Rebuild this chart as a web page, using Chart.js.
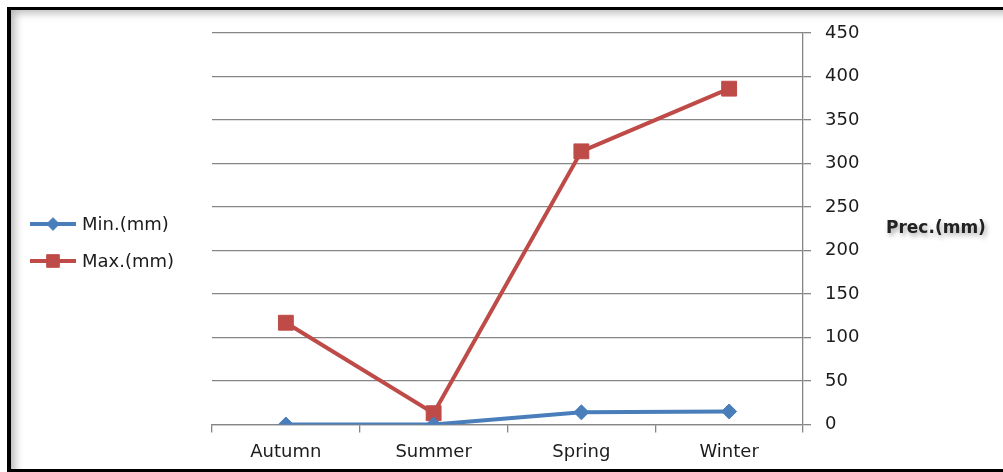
<!DOCTYPE html>
<html>
<head>
<meta charset="utf-8">
<script src="https://cdn.jsdelivr.net/npm/chart.js@4/dist/chart.umd.min.js"></script>
<style>
  html, body { margin: 0; padding: 0; background: #fff; }
  #wrap { position: relative; width: 1003px; height: 472px; overflow: hidden; }
  #chart { position: absolute; left: 0; top: 0; }
  #frame {
    position: absolute; left: 7px; top: 7px; width: 1010px; height: 459px;
    border-left: 4px solid #000; border-top: 3px solid #000; border-bottom: 3px solid #000;
    box-shadow: inset 7px 6px 9px -3px rgba(0,0,0,0.28);
    pointer-events: none;
  }
</style>
</head>
<body>
<div id="wrap">
  <canvas id="chart" width="1003" height="472"></canvas>
  <div id="frame"></div>
</div>
<script>
// Seasonal precipitation, minimum and maximum (mm)
const seasons = ['Autumn', 'Summer', 'Spring', 'Winter'];
const minPrec = [0, 0, 14, 15];
const maxPrec = [117, 13, 314, 386];
const precTicks = [0, 50, 100, 150, 200, 250, 300, 350, 400, 450];
const seriesNames = ['Min.(mm)', 'Max.(mm)'];
const axisTitle = 'Prec.(mm)';

const BLUE = '#4a7ebb';
const RED = '#be4b48';
const GRID = '#868686';
const TEXT = '#1c1c1c';
const FONT = 'DejaVu Sans';

// Legend drawn at the left: line sample with its marker, then the label
const sideLegend = {
  id: 'sideLegend',
  afterDraw(chart) {
    const ctx = chart.ctx;
    const rows = [224, 261];
    chart.data.datasets.forEach((ds, i) => {
      const y = rows[i];
      ctx.save();
      ctx.strokeStyle = ds.borderColor;
      ctx.lineWidth = 4;
      ctx.beginPath();
      ctx.moveTo(30, y);
      ctx.lineTo(76, y);
      ctx.stroke();
      ctx.fillStyle = ds.pointBackgroundColor;
      ctx.strokeStyle = ds.pointBorderColor;
      ctx.lineWidth = 1;
      Chart.helpers.drawPoint(ctx, {
        pointStyle: ds.pointStyle,
        radius: ds.pointRadius * 0.85,
        borderWidth: 1,
        rotation: 0
      }, 53, y);
      ctx.fillStyle = TEXT;
      ctx.font = '18px "' + FONT + '"';
      ctx.textBaseline = 'middle';
      ctx.textAlign = 'left';
      ctx.fillText(ds.label, 82, y + 1);
      ctx.restore();
    });
  }
};

// Unrotated title placed to the right of the value axis
const sideTitle = {
  id: 'sideTitle',
  afterDraw(chart) {
    const ctx = chart.ctx;
    const area = chart.chartArea;
    ctx.save();
    ctx.font = 'bold 17px "' + FONT + '"';
    ctx.fillStyle = '#222';
    ctx.textBaseline = 'middle';
    ctx.textAlign = 'left';
    ctx.shadowColor = 'rgba(0,0,0,0.35)';
    ctx.shadowBlur = 5;
    ctx.shadowOffsetX = 2;
    ctx.shadowOffsetY = 3;
    ctx.fillText(axisTitle, area.right + 83, 229);
    ctx.restore();
  }
};

new Chart(document.getElementById('chart'), {
  type: 'line',
  data: {
    labels: seasons,
    datasets: [
      {
        label: seriesNames[0],
        data: minPrec,
        borderColor: BLUE,
        backgroundColor: BLUE,
        borderWidth: 4,
        tension: 0,
        pointStyle: 'rectRot',
        pointRadius: 7.5,
        pointBackgroundColor: BLUE,
        pointBorderColor: BLUE,
        pointBorderWidth: 1
      },
      {
        label: seriesNames[1],
        data: maxPrec,
        borderColor: RED,
        backgroundColor: RED,
        borderWidth: 4,
        tension: 0,
        pointStyle: 'rect',
        pointRadius: 10.5,
        pointBackgroundColor: RED,
        pointBorderColor: RED,
        pointBorderWidth: 1
      }
    ]
  },
  options: {
    responsive: false,
    animation: false,
    layout: { padding: { left: 212, top: 33, right: 0, bottom: 0 } },
    plugins: {
      legend: { display: false },
      tooltip: { enabled: false }
    },
    scales: {
      x: {
        type: 'category',
        offset: true,
        grid: {
          offset: true,
          drawOnChartArea: false,
          drawTicks: true,
          tickLength: 8,
          color: GRID,
          lineWidth: 1.3
        },
        border: { display: true, color: GRID, width: 1.3 },
        ticks: {
          color: TEXT,
          font: { family: FONT, size: 18 },
          padding: 9,
          maxRotation: 0
        },
        afterFit(scale) { scale.height = 47.5; }
      },
      y: {
        position: 'right',
        min: 0,
        max: 450,
        afterBuildTicks(scale) {
          scale.ticks = precTicks.map(v => ({ value: v }));
        },
        grid: {
          drawTicks: true,
          tickLength: 8,
          color: GRID,
          lineWidth: 1.3
        },
        border: { display: true, color: GRID, width: 1.3 },
        ticks: {
          color: TEXT,
          font: { family: FONT, size: 18 },
          padding: 14
        },
        afterFit(scale) { scale.width = 200; }
      }
    }
  },
  plugins: [sideLegend, sideTitle]
});
</script>
</body>
</html>
